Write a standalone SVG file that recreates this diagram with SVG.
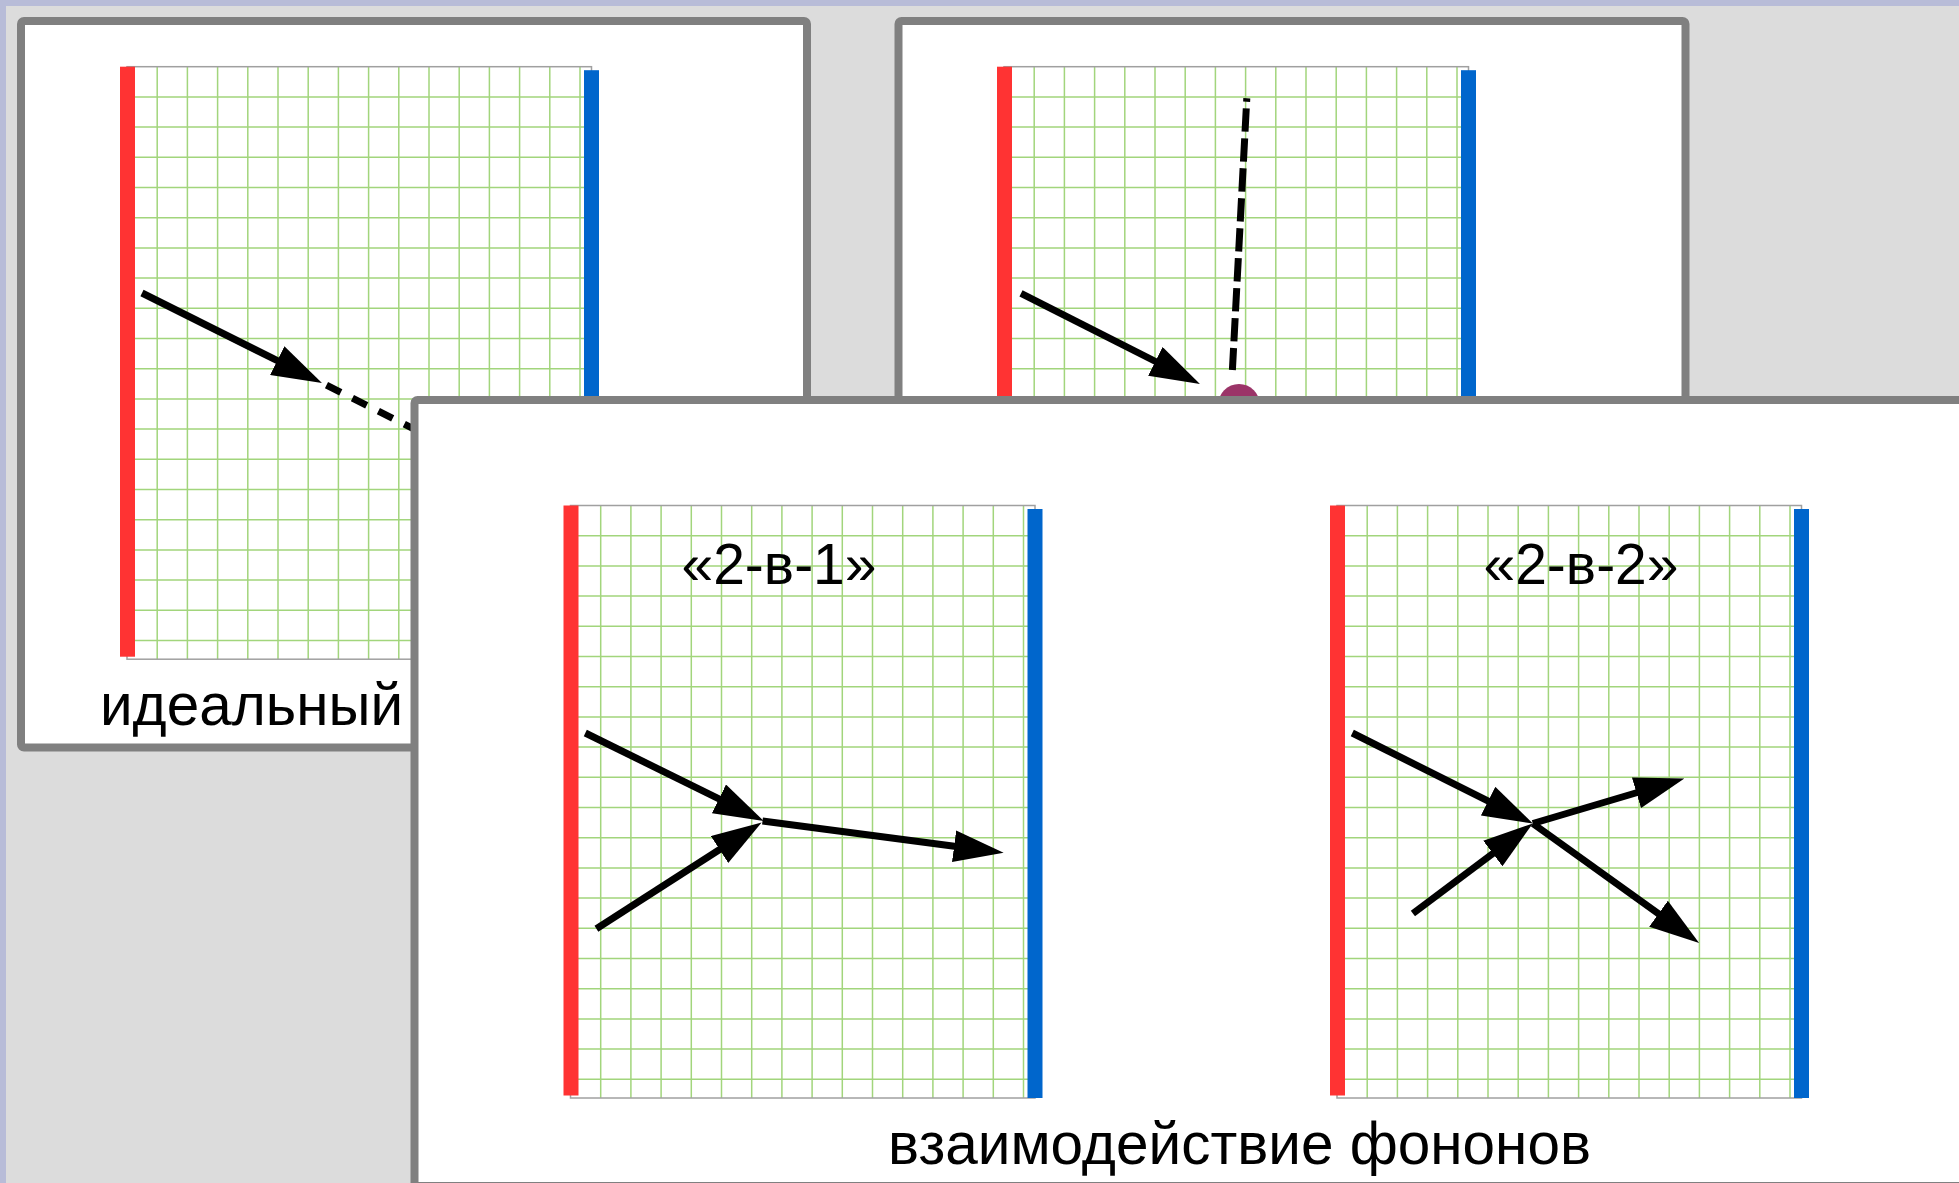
<svg xmlns="http://www.w3.org/2000/svg" xmlns:xlink="http://www.w3.org/1999/xlink" width="1959" height="1183" viewBox="0 0 1959 1183">
<style>
.panel{fill:#ffffff;stroke:#808080;stroke-width:8}
.gl{fill:none;stroke:#a2d57c;stroke-width:1.5}
.go{fill:none;stroke:#a0a0a0;stroke-width:1.5}
.red{fill:#ff3333}
.blue{fill:#0066cc}
.arrow{fill:none;stroke:#000000;stroke-width:7;marker-end:url(#ah)}
.dash{fill:none;stroke:#000000;stroke-width:7}
.lbl{font-family:"Liberation Sans",Arial,sans-serif;fill:#000000}
</style>
<defs>
<marker id="ah" markerUnits="userSpaceOnUse" markerWidth="50" markerHeight="32" viewBox="0 0 50 32" refX="8" refY="16" orient="auto"><path d="M0,0 L50,16 L0,32 Z" fill="#000000"/></marker>
<g id="grid">
<path class="gl" d="M30.2,0V592.5M60.4,0V592.5M90.6,0V592.5M120.8,0V592.5M151,0V592.5M181.2,0V592.5M211.4,0V592.5M241.6,0V592.5M271.8,0V592.5M302,0V592.5M332.2,0V592.5M362.4,0V592.5M392.6,0V592.5M422.8,0V592.5M453,0V592.5M0,30.2H464.5M0,60.4H464.5M0,90.6H464.5M0,120.8H464.5M0,151H464.5M0,181.2H464.5M0,211.4H464.5M0,241.6H464.5M0,271.8H464.5M0,302H464.5M0,332.2H464.5M0,362.4H464.5M0,392.6H464.5M0,422.8H464.5M0,453H464.5M0,483.2H464.5M0,513.4H464.5M0,543.6H464.5M0,573.8H464.5"/>
<rect class="go" x="0" y="0" width="464.5" height="592.5"/>
<rect class="red" x="-7" y="0" width="15" height="590"/>
<rect class="blue" x="457" y="3.5" width="15" height="589"/>
</g>
</defs>
<rect x="0" y="0" width="1959" height="1183" fill="#dcdcdc"/>
<rect x="0" y="0" width="1959" height="6" fill="#b8bcd8"/>
<rect x="0" y="0" width="6" height="1183" fill="#b8bcd8"/>

<g id="panel-ideal">
<rect class="panel" x="21" y="21" width="786" height="726.5" rx="3"/>
<use xlink:href="#grid" href="#grid" x="127" y="66.7"/>
<text class="lbl" x="100" y="725" font-size="60" textLength="303" lengthAdjust="spacingAndGlyphs">идеальный</text>
</g>

<g id="panel-defect">
<rect class="panel" x="898.5" y="21" width="787" height="726.5" rx="3"/>
<use xlink:href="#grid" href="#grid" x="1004" y="66.7"/>
</g>

<g id="connectors-back">
<path class="arrow" d="M142,293 L284.4,364.2"/>
<path class="dash" d="M326.5,385.2 L440,442" stroke-dasharray="16 13"/>
<path class="arrow" d="M1021,293.3 L1162.5,365"/>
<path class="dash" d="M1246.8,98.3 L1232.4,370" stroke-dasharray="23.3 6.7" stroke-dashoffset="19.9"/>
</g>
<g id="defect-point">
<circle cx="1239" cy="405" r="21" fill="#9b3468"/>
</g>

<g id="panel-phonon">
<rect class="panel" x="414.5" y="400" width="1600" height="786" rx="3"/>
<g id="sub-2v1">
<use xlink:href="#grid" href="#grid" x="570.5" y="505.5"/>
<text class="lbl" x="779" y="584" font-size="57" text-anchor="middle">«2-в-1»</text>
</g>
<g id="sub-2v2">
<use xlink:href="#grid" href="#grid" x="1337" y="505.5"/>
<text class="lbl" x="1581" y="584" font-size="57" text-anchor="middle">«2-в-2»</text>
</g>
<text class="lbl" x="888" y="1164" font-size="60" textLength="703" lengthAdjust="spacingAndGlyphs">взаимодействие фононов</text>
</g>

<g id="connectors">
<path class="arrow" d="M585.3,733 L726.1,802.4"/>
<path class="arrow" d="M596.4,928.7 L726.3,845.2"/>
<path class="arrow" d="M762.5,821 L962,847.3"/>
<path class="arrow" d="M1352.3,733 L1495.3,804.7"/>
<path class="arrow" d="M1412.9,913.5 L1499.2,848.7"/>
<path class="arrow" d="M1532.8,823.5 L1644.1,790.5"/>
<path class="arrow" d="M1532.8,823.5 L1665,918.4"/>
</g>
</svg>
